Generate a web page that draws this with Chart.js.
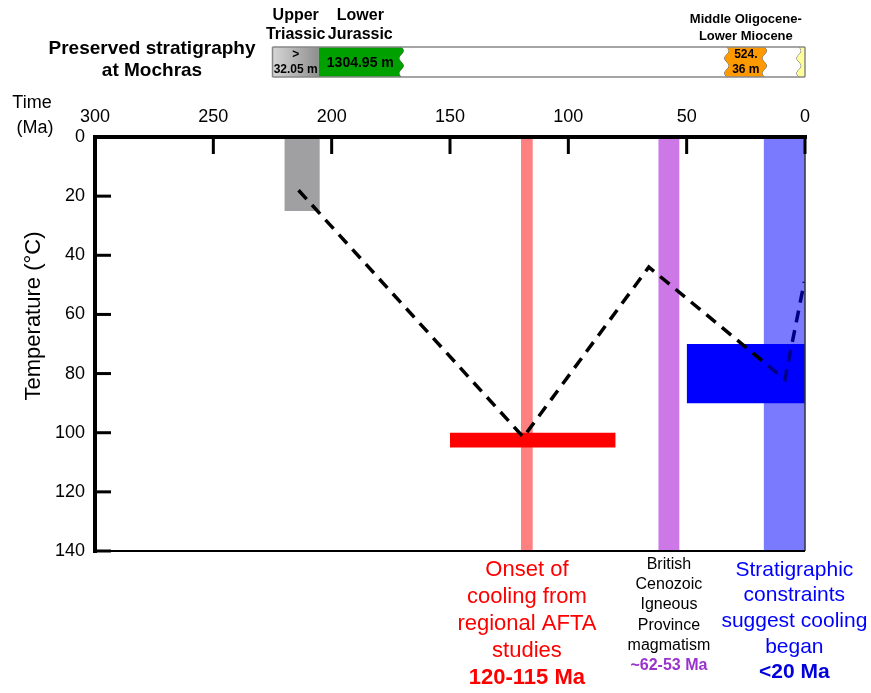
<!DOCTYPE html>
<html>
<head>
<meta charset="utf-8">
<script src="https://cdn.jsdelivr.net/npm/chart.js@4.4.0/dist/chart.umd.min.js"></script>
<style>
  body { margin: 0; background: #fff; }
  #wrap { width: 871px; height: 693px; }
</style>
</head>
<body>
<div id="wrap"><canvas id="chart" width="871" height="693"></canvas></div>
<script>
const timeTicks = [300, 250, 200, 150, 100, 50, 0];
const tempTicks = [0, 20, 40, 60, 80, 100, 120, 140];

// thermal history path (Ma, °C)
const pathAge = [214, 119, 66, 8.5, 0.3];
const pathTemp = [18, 101.5, 44, 82, 49];

// constraint boxes: grey sample box, AFTA onset, BCIP, AFTA peak, present box, strat constraint
const boxAgeOld = [220, 120, 62, 150, 50, 17.5];
const boxAgeYoung = [205, 115, 53, 80, 0, 0];
const boxTempTop = [0, 0, 0, 100, 70, 0];
const boxTempBase = [25, 140, 140, 105, 90, 140];
const boxColors = ['#a09fa1', '#ff8080', '#cc78e6', '#ff0000', '#0000ff', 'rgba(0,0,255,0.52)'];

// preserved stratigraphy at Mochras
const stratOld = [225, 205.4, 170.4, 33, 17, 2.5];
const stratYoung = [205.4, 170.4, 33, 17, 2.5, 0];
const stratNames = [['Upper', 'Triassic'], ['Lower', 'Jurassic'], [], ['Middle Oligocene-', 'Lower Miocene'], [], []];
const stratThick = [['>', '32.05 m'], ['1304.95 m'], [], ['524.', '36 m'], [], []];
const stratWavy = [false, true, true, true, true, false]; // unconformity at young edge

// notes under the plot
const noteAge = [117.5, 57.5, 4.5];
const noteLines = [
  ['Onset of', 'cooling from', 'regional AFTA', 'studies'],
  ['British', 'Cenozoic', 'Igneous', 'Province', 'magmatism'],
  ['Stratigraphic', 'constraints', 'suggest cooling', 'began']
];
const noteValue = ['120-115 Ma', '~62-53 Ma', '<20 Ma'];

const FONT = "'Liberation Sans', Arial, sans-serif";

const boxSets = boxAgeOld.map((a, i) => ({
  type: 'line',
  data: [{x: a, y: boxTempTop[i]}, {x: boxAgeYoung[i], y: boxTempTop[i]}],
  borderWidth: 0,
  borderColor: 'rgba(0,0,0,0)',
  pointRadius: 0,
  backgroundColor: boxColors[i],
  fill: {value: boxTempBase[i]},
  order: i === 5 ? 0 : (i >= 3 ? 2 : 3)
}));

function text(ctx, s, x, y, font, color) {
  ctx.font = font;
  ctx.fillStyle = color;
  ctx.textAlign = 'center';
  ctx.textBaseline = 'middle';
  ctx.fillText(s, x, y);
}

const decor = {
  id: 'decor',
  afterDatasetsDraw(chart) {
    const {ctx, chartArea: a, scales: {x, y}} = chart;
    ctx.save();
    ctx.strokeStyle = '#000';
    // right + bottom frame
    ctx.lineWidth = 1.5;
    ctx.strokeStyle = '#333';
    ctx.beginPath();
    ctx.moveTo(a.right, a.top); ctx.lineTo(a.right, a.bottom);
    ctx.stroke();
    ctx.strokeStyle = '#000';
    ctx.lineWidth = 2;
    ctx.beginPath();
    ctx.moveTo(a.left, a.bottom); ctx.lineTo(a.right, a.bottom);
    ctx.stroke();
    // inside ticks
    ctx.lineWidth = 3;
    timeTicks.forEach(v => {
      const px = x.getPixelForValue(v);
      ctx.beginPath(); ctx.moveTo(px, a.top); ctx.lineTo(px, a.top + 17); ctx.stroke();
    });
    tempTicks.forEach(v => {
      const py = y.getPixelForValue(v);
      ctx.beginPath(); ctx.moveTo(a.left, py); ctx.lineTo(a.left + 16, py); ctx.stroke();
    });
    // thick axes
    ctx.lineWidth = 4;
    ctx.beginPath();
    ctx.moveTo(a.left - 2, a.top); ctx.lineTo(a.right + 2, a.top);
    ctx.moveTo(a.left, a.top - 2); ctx.lineTo(a.left, a.bottom + 2);
    ctx.stroke();
    ctx.restore();
  },
  afterDraw(chart) {
    const {ctx, scales: {x}} = chart;
    ctx.save();
    // axis captions
    text(ctx, 'Time', 32, 103, '18px ' + FONT, '#000');
    text(ctx, '(Ma)', 35, 128, '18px ' + FONT, '#000');
    ctx.save();
    ctx.translate(34, 316);
    ctx.rotate(-Math.PI / 2);
    text(ctx, 'Temperature (°C)', 0, 0, '22px ' + FONT, '#000');
    ctx.restore();

    // stratigraphy strip
    const top = 47, bot = 77, h = bot - top, amp = 2.2;
    const edge = (px, wavy, yy) => wavy ? px + amp * Math.sin((yy - top) / h * Math.PI * 4) : px;
    text(ctx, 'Preserved stratigraphy', 152, 49, 'bold 19px ' + FONT, '#000');
    text(ctx, 'at Mochras', 152, 71, 'bold 19px ' + FONT, '#000');
    stratOld.forEach((old, i) => {
      const L = x.getPixelForValue(old), R = x.getPixelForValue(stratYoung[i]);
      const wl = i > 0 && stratWavy[i - 1], wr = stratWavy[i];
      ctx.beginPath();
      ctx.moveTo(edge(L, wl, top), top);
      for (let yy = top; yy <= bot; yy += 1) ctx.lineTo(edge(R, wr, yy), yy);
      for (let yy = bot; yy >= top; yy -= 1) ctx.lineTo(edge(L, wl, yy), yy);
      ctx.closePath();
      let fill = ['gray', '#00a000', '#ffffff', '#ff9900', '#ffffff', '#ffff99'][i];
      if (fill === 'gray') {
        fill = ctx.createLinearGradient(L, 0, R, 0);
        fill.addColorStop(0, '#d6d6d6');
        fill.addColorStop(1, '#8e8e8e');
      }
      ctx.fillStyle = fill;
      ctx.fill();
      if (wr) {
        ctx.beginPath();
        for (let yy = top; yy <= bot; yy += 1) ctx.lineTo(edge(R, true, yy), yy);
        ctx.strokeStyle = '#555';
        ctx.lineWidth = 1;
        ctx.stroke();
      }
      const cx = (L + R) / 2;
      const t = stratThick[i];
      if (t.length === 1) text(ctx, t[0], cx, 63, 'bold 14px ' + FONT, '#000');
      if (t.length === 2) {
        text(ctx, t[0], cx, 55, 'bold 12px ' + FONT, '#000');
        text(ctx, t[1], cx, 70, 'bold 12px ' + FONT, '#000');
      }
      const n = stratNames[i];
      if (n.length) {
        const small = n[0].length > 10;
        const f = small ? 'bold 13px ' + FONT : 'bold 16px ' + FONT;
        text(ctx, n[0], cx, small ? 19 : 16, f, '#000');
        text(ctx, n[1], cx, small ? 36 : 35, f, '#000');
      }
    });
    const sl = x.getPixelForValue(stratOld[0]), sr = x.getPixelForValue(0);
    ctx.strokeStyle = '#888';
    ctx.lineWidth = 1.5;
    ctx.beginPath();
    ctx.moveTo(sl, top); ctx.lineTo(sr, top);
    ctx.moveTo(sl, bot); ctx.lineTo(sr, bot);
    ctx.moveTo(sl, top); ctx.lineTo(sl, bot);
    ctx.moveTo(sr, top); ctx.lineTo(sr, bot);
    ctx.stroke();

    // notes
    const styles = [
      {y0: 570, lh: 27, f: '22px ', c: '#ff0000', vc: '#ff0000'},
      {y0: 564.5, lh: 20.2, f: '16px ', c: '#000', vc: '#9933cc'},
      {y0: 570, lh: 25.6, f: '21px ', c: '#0000ff', vc: '#0000dd'}
    ];
    noteAge.forEach((age, i) => {
      const s = styles[i];
      const cx = x.getPixelForValue(age);
      noteLines[i].forEach((ln, k) => text(ctx, ln, cx, s.y0 + k * s.lh, s.f + FONT, s.c));
      text(ctx, noteValue[i], cx, s.y0 + noteLines[i].length * s.lh, 'bold ' + s.f + FONT, s.vc);
    });
    ctx.restore();
  }
};

new Chart(document.getElementById('chart'), {
  type: 'line',
  data: {
    datasets: [
      {
        data: pathAge.map((a, i) => ({x: a, y: pathTemp[i]})),
        borderColor: '#000',
        borderWidth: 3.5,
        borderDash: [12, 8],
        pointRadius: 0,
        fill: false,
        tension: 0,
        order: 1
      },
      ...boxSets
    ]
  },
  options: {
    responsive: false,
    animation: false,
    layout: {padding: {left: 0, top: 0, right: 66, bottom: 142}},
    plugins: {legend: {display: false}, tooltip: {enabled: false}},
    scales: {
      x: {
        type: 'linear',
        position: 'top',
        reverse: true,
        min: 0,
        max: 300,
        afterBuildTicks: s => { s.ticks = timeTicks.map(v => ({value: v})); },
        afterFit: s => { s.height = 137; },
        grid: {display: false, drawTicks: false},
        border: {display: false},
        ticks: {padding: 9, color: '#000', font: {family: FONT, size: 18}, maxRotation: 0}
      },
      y: {
        type: 'linear',
        reverse: true,
        min: 0,
        max: 140,
        afterBuildTicks: s => { s.ticks = tempTicks.map(v => ({value: v})); },
        afterFit: s => { s.width = 95; },
        grid: {display: false, drawTicks: false},
        border: {display: false},
        ticks: {padding: 10, color: '#000', font: {family: FONT, size: 18}}
      }
    }
  },
  plugins: [decor]
});
</script>
</body>
</html>
